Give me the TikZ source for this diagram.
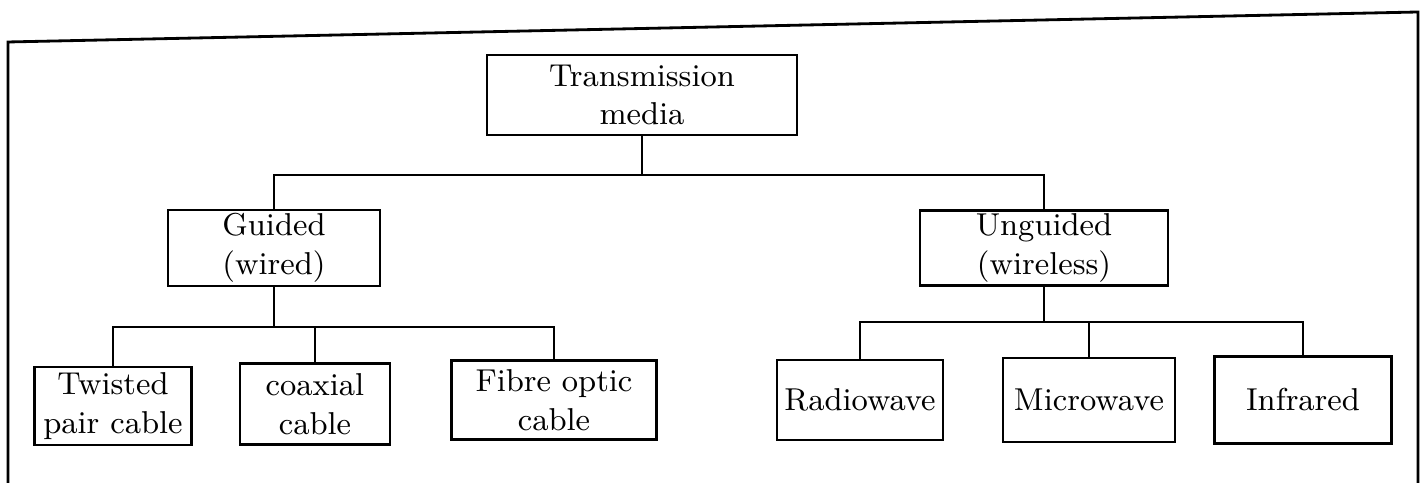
\documentclass[tikz,border=0pt]{standalone}
\usepackage{tikz}
\usetikzlibrary{positioning}

\begin{document}
\begin{tikzpicture}[x=0.01cm,y=-0.01cm,
  box/.style={draw,thick,align=center,inner sep=1pt,font=\small},
  link/.style={thick}]
\useasboundingbox (0,0) rectangle (1423,483);
% page frame
\draw[thick] (8,483) -- (8,42) -- (1418,12) -- (1418,483);

% top level
\node[box,minimum width=3.1cm,minimum height=0.8cm] (root) at (642,95) {Transmission\\ media};
\node[box,minimum width=2.12cm,minimum height=0.6cm] (guided) at (274,248) {Guided\\ (wired)};
\node[box,minimum width=2.48cm,minimum height=0.65cm] (unguided) at (1044,248) {Unguided\\ (wireless)};

% guided media
\node[box,minimum width=1.57cm,minimum height=0.78cm] (twisted) at (113,406) {Twisted\\ pair cable};
\node[box,minimum width=1.5cm,minimum height=0.81cm] (coax) at (315,404) {coaxial\\ cable};
\node[box,minimum width=2.05cm,minimum height=0.79cm] (fibre) at (554,400) {Fibre optic\\ cable};

% unguided media
\node[box,minimum width=1.66cm,minimum height=0.8cm] (radio) at (860,400) {Radiowave};
\node[box,minimum width=1.72cm,minimum height=0.84cm] (micro) at (1089,400) {Microwave};
\node[box,minimum width=1.77cm,minimum height=0.87cm] (infra) at (1303,400) {Infrared};

% connectors
\coordinate (rbus) at (642,175);
\coordinate (gbus) at (274,327);
\coordinate (ubus) at (1044,322);
\draw[link] (root) -- (rbus);
\draw[link] (guided.north) |- (rbus) -| (unguided.north);
\draw[link] (guided) -- (gbus);
\draw[link] (twisted.north) |- (gbus) -| (fibre.north);
\draw[link] (coax.north) -- (coax.north |- gbus);
\draw[link] (unguided) -- (ubus);
\draw[link] (radio.north) |- (ubus) -| (infra.north);
\draw[link] (micro.north) -- (micro.north |- ubus);
\end{tikzpicture}
\end{document}
